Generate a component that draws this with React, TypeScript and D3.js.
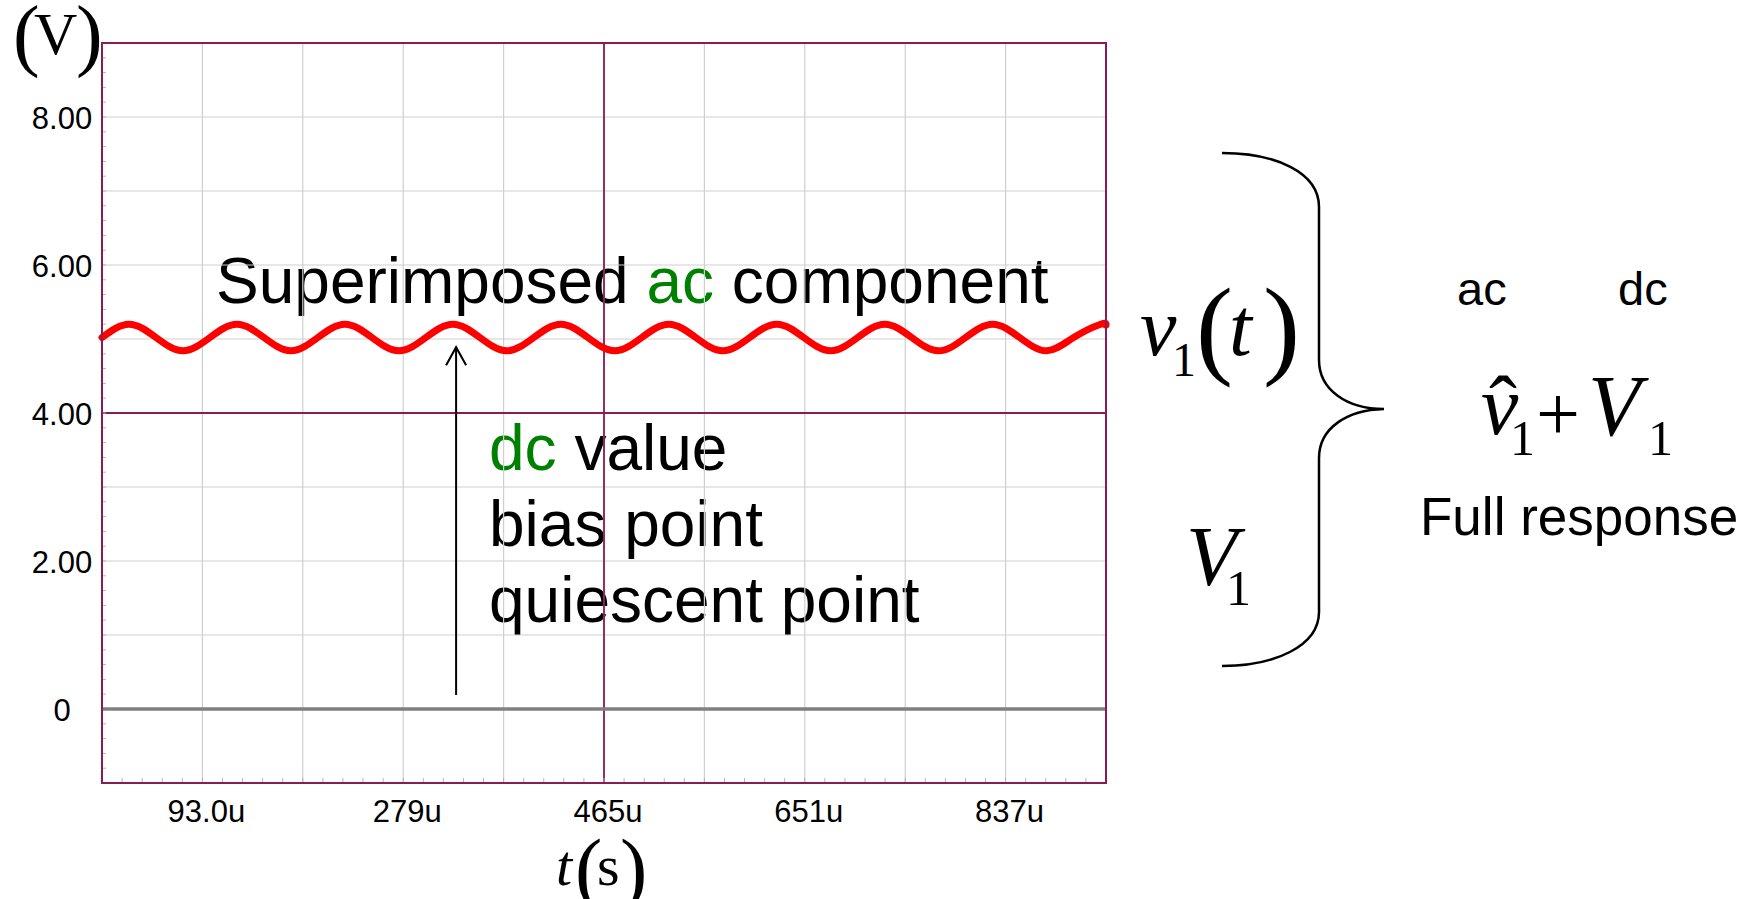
import React from "react";
import * as d3 from "d3";

// ---- data ----
const timeDomain = [0, 930e-6];
const voltDomain = [-1, 9];

const xTickValues = [93e-6, 279e-6, 465e-6, 651e-6, 837e-6];
const xTickLabels = ["93.0u", "279u", "465u", "651u", "837u"];
const yTickValues = [0, 2, 4, 6, 8];
const yTickLabels = ["0", "2.00", "4.00", "6.00", "8.00"];

const gridTimes = [93e-6, 186e-6, 279e-6, 372e-6, 465e-6, 558e-6, 651e-6, 744e-6, 837e-6];
const gridVolts = [0, 1, 2, 3, 4, 5, 6, 7, 8];
const minorTimeStep = 18.6e-6;
const minorVoltStep = 0.2;

// v1(t): 10 kHz ripple riding on the 5 V bias, sampled at every quarter period
const waveTimesUs = [
  0, 25, 50, 75, 100, 125, 150, 175, 200, 225, 250, 275, 300, 325, 350, 375,
  400, 425, 450, 475, 500, 525, 550, 575, 600, 625, 650, 675, 700, 725, 750,
  775, 800, 825, 850, 875, 900, 925, 930,
];
const waveVolts = [
  5.02, 5.2, 5.02, 4.84, 5.02, 5.2, 5.02, 4.84, 5.02, 5.2, 5.02, 4.84, 5.02, 5.2, 5.02, 4.84,
  5.02, 5.2, 5.02, 4.84, 5.02, 5.2, 5.02, 4.84, 5.02, 5.2, 5.02, 4.84, 5.02, 5.2, 5.02,
  4.84, 5.02, 5.2, 5.02, 4.84, 5.02, 5.2, 5.19,
];

// ground reference trace
const zeroTimesUs = [0, 930];
const zeroVolts = [0, 0];

// annotation arrow: from near 0 V up to the dc level
const arrowTimeUs = 328;
const arrowFromVolt = 0.19;
const arrowToVolt = 4.89;

// ---- layout ----
const W = 1753;
const H = 899;
const plot = { left: 102, right: 1106, top: 43, bottom: 783 };

const BORDER = "#8b1a55";
const GRID = "#cfcfcf";
const GREEN = "#008000";
const SANS = "'Liberation Sans', Arial, sans-serif";
const SERIF = "'Liberation Serif', 'Times New Roman', serif";

export default function App() {
  const x = d3.scaleLinear().domain(timeDomain).range([plot.left, plot.right]);
  const y = d3.scaleLinear().domain(voltDomain).range([plot.bottom, plot.top]);

  const wavePts: [number, number][] = waveTimesUs.map((t, i) => [t * 1e-6, waveVolts[i]]);
  const zeroPts: [number, number][] = zeroTimesUs.map((t, i) => [t * 1e-6, zeroVolts[i]]);

  const line = d3
    .line<[number, number]>()
    .x((d) => x(d[0]))
    .y((d) => y(d[1]));
  const waveLine = d3
    .line<[number, number]>()
    .x((d) => x(d[0]))
    .y((d) => y(d[1]))
    .curve(d3.curveNatural);

  const minorT = d3.range(minorTimeStep, timeDomain[1] - 1e-9, minorTimeStep);
  const minorV = d3.range(voltDomain[0] + minorVoltStep, voltDomain[1] - 1e-9, minorVoltStep);

  const ax = x(arrowTimeUs * 1e-6);
  const ay0 = y(arrowFromVolt);
  const ay1 = y(arrowToVolt);

  // right-hand curly brace
  const brace = [
    "M 1222 153",
    "C 1275 153, 1319 172, 1319 207",
    "L 1319 360",
    "C 1319 390, 1347 409, 1384 409",
    "C 1347 410, 1319 428, 1319 458",
    "L 1319 612",
    "C 1319 646, 1275 666, 1222 666",
  ].join(" ");

  return (
    <svg width={W} height={H} style={{ display: "block", position: "absolute", left: 0, top: 0 }}>
      <rect x={0} y={0} width={W} height={H} fill="#ffffff" />

      {/* overlay text inside the plot */}
      <text x={216} y={303} fontFamily={SANS} fontSize={64} fill="#000">
        Superimposed <tspan fill={GREEN}>ac</tspan> component
      </text>
      <text x={489} y={470} fontFamily={SANS} fontSize={64} fill="#000">
        <tspan fill={GREEN}>dc</tspan> value
      </text>
      <text x={489} y={546} fontFamily={SANS} fontSize={64} fill="#000">
        bias point
      </text>
      <text x={489} y={622} fontFamily={SANS} fontSize={64} fill="#000">
        quiescent point
      </text>

      {/* grid */}
      <g stroke={GRID} strokeWidth={1.2}>
        {gridTimes.map((t) => (
          <line key={"gt" + t} x1={x(t)} x2={x(t)} y1={plot.top} y2={plot.bottom} />
        ))}
        {gridVolts.map((v) => (
          <line key={"gv" + v} x1={plot.left} x2={plot.right} y1={y(v)} y2={y(v)} />
        ))}
      </g>
      {/* centre reference lines */}
      <g stroke={BORDER} strokeWidth={1.8}>
        <line x1={x(465e-6)} x2={x(465e-6)} y1={plot.top} y2={plot.bottom} />
        <line x1={plot.left} x2={plot.right} y1={y(4)} y2={y(4)} />
      </g>

      {/* minor ticks */}
      <g stroke="#b4b4b4" strokeWidth={1}>
        {minorT.map((t, i) => (
          <line key={"mt" + i} x1={x(t)} x2={x(t)} y1={plot.bottom} y2={plot.bottom - 5} />
        ))}
        {minorV.map((v, i) => (
          <line key={"mv" + i} x1={plot.left} x2={plot.left + 4} y1={y(v)} y2={y(v)} />
        ))}
      </g>

      {/* traces */}
      <path d={line(zeroPts) || ""} fill="none" stroke="#808080" strokeWidth={3.5} />
      <path
        d={waveLine(wavePts) || ""}
        fill="none"
        stroke="#ff0000"
        strokeWidth={7}
        strokeLinejoin="round"
        strokeLinecap="round"
      />

      {/* frame */}
      <rect
        x={plot.left}
        y={plot.top}
        width={plot.right - plot.left}
        height={plot.bottom - plot.top}
        fill="none"
        stroke={BORDER}
        strokeWidth={2}
      />

      {/* arrow */}
      <line x1={ax} x2={ax} y1={ay0} y2={ay1} stroke="#000" strokeWidth={2} />
      <polyline
        points={`${ax - 10},${ay1 + 18} ${ax},${ay1} ${ax + 10},${ay1 + 18}`}
        fill="none"
        stroke="#000"
        strokeWidth={2}
      />

      {/* y tick labels */}
      {yTickValues.map((v, i) => (
        <text
          key={"yl" + v}
          x={62}
          y={y(v) + 12}
          textAnchor="middle"
          fontFamily={SANS}
          fontSize={31}
          fill="#000"
        >
          {yTickLabels[i]}
        </text>
      ))}
      {/* x tick labels */}
      {xTickValues.map((t, i) => (
        <text
          key={"xl" + t}
          x={x(t) + 4}
          y={822}
          textAnchor="middle"
          fontFamily={SANS}
          fontSize={31}
          fill="#000"
        >
          {xTickLabels[i]}
        </text>
      ))}

      {/* axis units */}
      <g fontFamily={SERIF} fill="#000">
        <text x={13} y={61} fontSize={80}>(</text>
        <text x={34} y={54} fontSize={60}>V</text>
        <text x={76} y={61} fontSize={80}>)</text>

        <text x={556} y={885} fontSize={58} fontStyle="italic">t</text>
        <text x={575} y={896} fontSize={82}>(</text>
        <text x={597} y={885} fontSize={58}>s</text>
        <text x={620} y={896} fontSize={82}>)</text>
      </g>

      {/* v1(t) and V1 */}
      <g fontFamily={SERIF} fill="#000">
        <text x={1140} y={355} fontSize={82} fontStyle="italic">v</text>
        <text x={1172} y={376} fontSize={48}>1</text>
        <text x={1196} y={364} fontSize={111}>(</text>
        <text x={1229} y={355} fontSize={82} fontStyle="italic">t</text>
        <text x={1263} y={364} fontSize={111}>)</text>

        <text x={1186} y={585} fontSize={84} fontStyle="italic">V</text>
        <text x={1226} y={605} fontSize={50}>1</text>
      </g>

      <path d={brace} fill="none" stroke="#000" strokeWidth={2.5} />

      {/* full response */}
      <g fontFamily={SANS} fill="#000" fontSize={47}>
        <text x={1457} y={305}>ac</text>
        <text x={1618} y={305}>dc</text>
      </g>
      <g fontFamily={SERIF} fill="#000">
        <text x={1481} y={434} fontSize={84} fontStyle="italic">v</text>
        <text x={1503} y={434} fontSize={84} textAnchor="middle">ˆ</text>
        <text x={1510} y={455} fontSize={50}>1</text>
        <text x={1558} y={440} fontSize={78} textAnchor="middle">+</text>
        <text x={1588} y={435} fontSize={86} fontStyle="italic">V</text>
        <text x={1648} y={455} fontSize={50}>1</text>
      </g>
      <text x={1420} y={535} fontFamily={SANS} fontSize={53} fill="#000">
        Full response
      </text>
    </svg>
  );
}
